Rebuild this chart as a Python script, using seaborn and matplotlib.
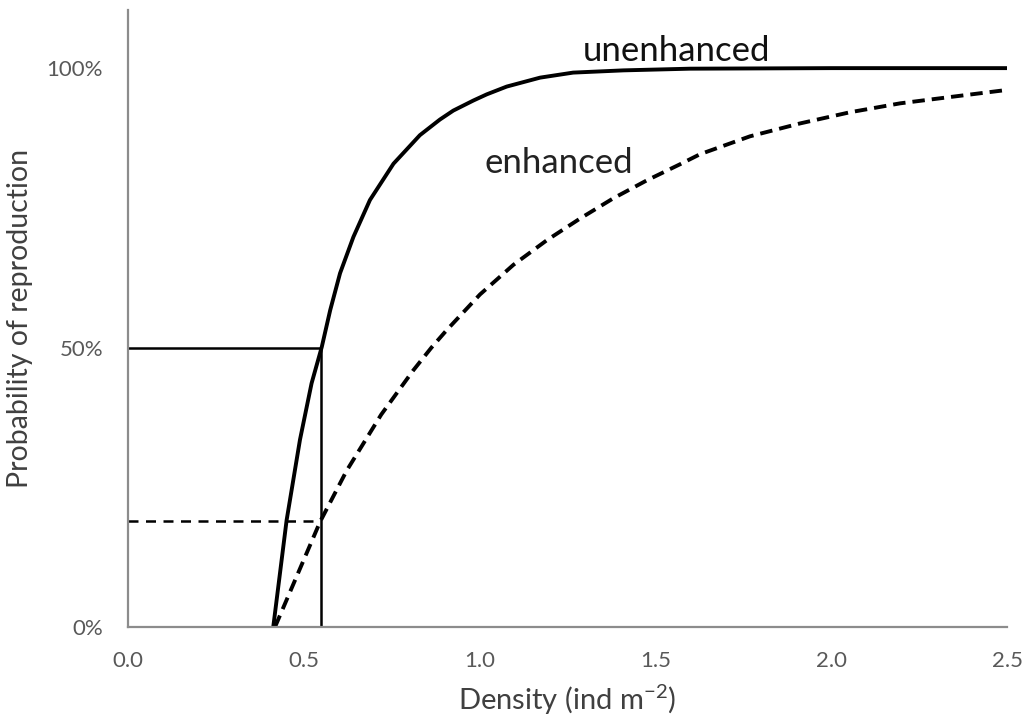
import matplotlib
matplotlib.use("Agg")
import matplotlib.pyplot as plt
import seaborn as sns
import pandas as pd

# Data
unenh_x = [0.413, 0.451, 0.489, 0.522, 0.551, 0.575, 0.603, 0.641, 0.688, 0.755, 0.830, 0.887,
           0.925, 0.982, 1.020, 1.077, 1.172, 1.266, 1.409, 1.598, 2.00, 2.50]
unenh_y = [0.0, 0.191, 0.335, 0.436, 0.501, 0.567, 0.633, 0.698, 0.764, 0.829, 0.880, 0.908,
           0.924, 0.942, 0.953, 0.967, 0.983, 0.992, 0.996, 0.999, 1.0, 1.0]

enh_x = [0.418, 0.546, 0.622, 0.72, 0.811, 0.863, 0.906, 1.001, 1.096, 1.191, 1.286, 1.380,
         1.475, 1.570, 1.627, 1.769, 1.911, 2.053, 2.196, 2.347, 2.50]
enh_y = [0.0, 0.188, 0.280, 0.380, 0.459, 0.500, 0.531, 0.595, 0.648, 0.692, 0.731, 0.767,
         0.799, 0.828, 0.846, 0.878, 0.901, 0.921, 0.937, 0.949, 0.961]

ref_x = 0.55
ref_unenh = 0.50
ref_enh = 0.19

x_ticks = [0.0, 0.5, 1.0, 1.5, 2.0, 2.5]
y_ticks = [0.0, 0.5, 1.0]
y_tick_labels = ["0%", "50%", "100%"]

sns.set_style("white")
plt.rcParams['font.family'] = ['Lato', 'DejaVu Sans']
plt.rcParams['mathtext.default'] = 'regular'

fig = plt.figure(figsize=(10.26, 7.15), dpi=100)
ax = fig.add_axes([0.1248, 0.1231, 0.8567, 0.8629])

df_u = pd.DataFrame({"x": unenh_x, "y": unenh_y})
df_e = pd.DataFrame({"x": enh_x, "y": enh_y})
sns.lineplot(data=df_u, x="x", y="y", ax=ax, color="black", linewidth=2.8, sort=False)
sns.lineplot(data=df_e, x="x", y="y", ax=ax, color="black", linewidth=2.8, sort=False,
             linestyle=(0, (3.2, 1.8)))
for ln in ax.lines:
    ln.set_solid_joinstyle("round")
    ln.set_dash_joinstyle("round")

# reference lines
ax.plot([0, ref_x], [ref_unenh, ref_unenh], color="black", linewidth=1.8)
ax.plot([ref_x, ref_x], [0, ref_unenh], color="black", linewidth=1.8)
ax.plot([0, ref_x], [ref_enh, ref_enh], color="black", linewidth=1.8, linestyle=(0, (4, 3)))

ax.text(1.294, 1.03, "unenhanced", fontsize=25, color="#111111", ha="left", va="center")
ax.text(1.015, 0.83, "enhanced", fontsize=25, color="#222222", ha="left", va="center")

ax.set_xlim(0, 2.5)
ax.set_ylim(0, 1.104)
ax.set_xticks(x_ticks)
ax.set_xticklabels([f"{v:.1f}" for v in x_ticks])
ax.set_yticks(y_ticks)
ax.set_yticklabels(y_tick_labels)

ax.set_xlabel("Density (ind m$^{-2}$)", fontsize=21, color="#404040", labelpad=8)
ax.set_ylabel("Probability of reproduction", fontsize=20.5, color="#404040", labelpad=10)

for s in ["top", "right"]:
    ax.spines[s].set_visible(False)
for s in ["left", "bottom"]:
    ax.spines[s].set_color("#8c8c8c")
    ax.spines[s].set_linewidth(1.6)

ax.tick_params(axis="x", direction="inout", length=11, width=1.2, color="#8c8c8c",
               labelsize=16, labelcolor="#595959", pad=12)
ax.tick_params(axis="y", length=0, labelsize=16, labelcolor="#595959", pad=18)

fig.savefig("out.png", dpi=100)
